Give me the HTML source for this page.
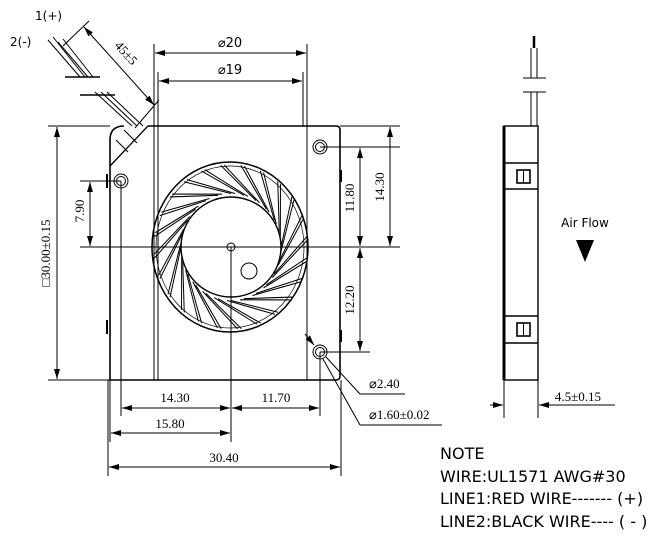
<!DOCTYPE html>
<html><head><meta charset="utf-8"><style>
html,body{margin:0;padding:0;background:#fff}
svg{display:block}
text{font-family:"DejaVu Sans","Liberation Sans",sans-serif;fill:#000}
.s{font-family:"Liberation Serif",serif}
</style></head><body>
<svg width="662" height="546" viewBox="0 0 662 546" xmlns="http://www.w3.org/2000/svg">
<defs>
<marker id="a" viewBox="0 0 10 6" refX="10" refY="3" markerWidth="10" markerHeight="6" orient="auto-start-reverse" markerUnits="userSpaceOnUse"><path d="M0,0L10,3L0,6z" fill="#000"/></marker>
</defs>
<g stroke="#000" fill="none" stroke-width="1">
<path d="M148,126 H336 Q340,126 340,130 V376 Q340,380 336,380 H110 V140 Q110,126 124,126" stroke-width="1.6"/>
<line x1="110" y1="166" x2="148" y2="126" stroke-width="1.3"/>
<line x1="116" y1="140" x2="128" y2="152"/><line x1="124" y1="130" x2="137" y2="143"/>
<line x1="107" y1="174" x2="107" y2="188" stroke-width="2"/><line x1="107" y1="320" x2="107" y2="334" stroke-width="2"/>
<line x1="341" y1="170" x2="341" y2="182" stroke-width="2"/><line x1="341" y1="330" x2="341" y2="342" stroke-width="2"/>
<circle cx="320" cy="147" r="7"/><circle cx="320" cy="147" r="4.5"/>
<circle cx="121" cy="181" r="7"/><circle cx="121" cy="181" r="4.5"/>
<circle cx="320" cy="352" r="7"/><circle cx="320" cy="352" r="4.5"/>
<ellipse cx="230" cy="247" rx="78" ry="85" stroke-width="1.5"/>
<ellipse cx="230" cy="247" rx="74" ry="81" stroke-width="0.7"/>
<circle cx="231" cy="247" r="50" stroke-width="1.4"/>
<circle cx="231" cy="247" r="4"/>
<circle cx="249" cy="271" r="8"/>
<g transform="translate(231 247) scale(1 1.07)">
<g id="b"><line x1="50" y1="0" x2="61" y2="-47"/><line x1="50" y1="4" x2="63" y2="-44"/></g>
<use href="#b" transform="rotate(15)"/><use href="#b" transform="rotate(30)"/><use href="#b" transform="rotate(45)"/>
<use href="#b" transform="rotate(60)"/><use href="#b" transform="rotate(75)"/><use href="#b" transform="rotate(90)"/>
<use href="#b" transform="rotate(105)"/><use href="#b" transform="rotate(120)"/><use href="#b" transform="rotate(135)"/>
<use href="#b" transform="rotate(150)"/><use href="#b" transform="rotate(165)"/><use href="#b" transform="rotate(180)"/>
<use href="#b" transform="rotate(195)"/><use href="#b" transform="rotate(210)"/><use href="#b" transform="rotate(225)"/>
<use href="#b" transform="rotate(240)"/><use href="#b" transform="rotate(255)"/><use href="#b" transform="rotate(270)"/>
<use href="#b" transform="rotate(285)"/><use href="#b" transform="rotate(300)"/><use href="#b" transform="rotate(315)"/>
<use href="#b" transform="rotate(330)"/><use href="#b" transform="rotate(345)"/>
</g>
<!-- wires -->
<line x1="48" y1="40" x2="80" y2="77"/><line x1="53" y1="37" x2="85" y2="77"/>
<line x1="58" y1="42" x2="88" y2="77"/><line x1="63" y1="39" x2="93" y2="77"/>
<line x1="65" y1="77" x2="100" y2="77" stroke-width="1.5"/>
<line x1="80" y1="95" x2="115" y2="95" stroke-width="1.5"/>
<line x1="95" y1="92" x2="132" y2="126"/><line x1="101" y1="92" x2="137" y2="126"/><line x1="107" y1="92" x2="143" y2="126"/>
<line x1="63" y1="46" x2="89" y2="21"/><line x1="135" y1="128" x2="159" y2="100"/>
<line x1="84" y1="27" x2="154" y2="105" marker-start="url(#a)" marker-end="url(#a)"/>
<line x1="154" y1="44" x2="154" y2="380"/><line x1="307" y1="44" x2="307" y2="380"/>
<line x1="158" y1="72" x2="158" y2="380"/><line x1="303" y1="72" x2="303" y2="126"/>
<line x1="155" y1="53" x2="306" y2="53" marker-start="url(#a)" marker-end="url(#a)"/>
<line x1="159" y1="81" x2="302" y2="81" marker-start="url(#a)" marker-end="url(#a)"/>
<line x1="48" y1="126" x2="110" y2="126"/><line x1="48" y1="380" x2="110" y2="380"/>
<line x1="57" y1="127" x2="57" y2="379" marker-start="url(#a)" marker-end="url(#a)"/>
<line x1="80" y1="181" x2="121" y2="181"/><line x1="80" y1="247" x2="400" y2="247"/>
<line x1="90" y1="182" x2="90" y2="246" marker-start="url(#a)" marker-end="url(#a)"/>
<line x1="320" y1="147" x2="400" y2="147"/><line x1="320" y1="352" x2="370" y2="352"/>
<line x1="340" y1="126" x2="400" y2="126"/>
<line x1="360" y1="148" x2="360" y2="246" marker-start="url(#a)" marker-end="url(#a)"/>
<line x1="360" y1="248" x2="360" y2="351" marker-start="url(#a)" marker-end="url(#a)"/>
<line x1="390" y1="127" x2="390" y2="246" marker-start="url(#a)" marker-end="url(#a)"/>
<line x1="121" y1="181" x2="121" y2="416"/><line x1="231" y1="247" x2="231" y2="442"/>
<line x1="320" y1="352" x2="320" y2="416"/><line x1="110" y1="380" x2="110" y2="442"/>
<line x1="108" y1="380" x2="108" y2="476"/><line x1="341" y1="380" x2="341" y2="476"/>
<line x1="122" y1="408" x2="230" y2="408" marker-start="url(#a)" marker-end="url(#a)"/>
<line x1="232" y1="408" x2="319" y2="408" marker-start="url(#a)" marker-end="url(#a)"/>
<line x1="111" y1="433" x2="230" y2="433" marker-start="url(#a)" marker-end="url(#a)"/>
<line x1="109" y1="467" x2="340" y2="467" marker-start="url(#a)" marker-end="url(#a)"/>
<line x1="305" y1="334" x2="314" y2="345" marker-end="url(#a)"/>
<line x1="326" y1="357" x2="360" y2="394"/><line x1="360" y1="394" x2="405" y2="394"/>
<line x1="323" y1="359" x2="360" y2="425"/><line x1="360" y1="425" x2="442" y2="425"/>
<rect x="504" y="126" width="34" height="254" stroke-width="1.4"/>
<line x1="504" y1="126" x2="504" y2="380" stroke-width="3"/>
<line x1="504" y1="163" x2="538" y2="163" stroke-width="1.4"/><line x1="504" y1="189" x2="538" y2="189" stroke-width="1.4"/>
<line x1="504" y1="316" x2="538" y2="316" stroke-width="1.4"/><line x1="504" y1="343" x2="538" y2="343" stroke-width="1.4"/>
<rect x="517" y="170" width="13" height="13" stroke-width="1.6"/><line x1="523.5" y1="170" x2="523.5" y2="183"/>
<rect x="517" y="323" width="13" height="13" stroke-width="1.6"/><line x1="523.5" y1="323" x2="523.5" y2="336"/>
<line x1="531" y1="48" x2="531" y2="78"/><line x1="537" y1="48" x2="537" y2="78"/><line x1="534" y1="36" x2="534" y2="48" stroke-width="2.5"/>
<line x1="523" y1="78" x2="546" y2="78"/><line x1="523" y1="92" x2="546" y2="92"/>
<line x1="531" y1="92" x2="531" y2="126"/><line x1="537" y1="92" x2="537" y2="126"/>
<line x1="504" y1="380" x2="504" y2="418"/><line x1="538" y1="380" x2="538" y2="418"/>
<line x1="490" y1="405" x2="503" y2="405" marker-end="url(#a)"/>
<line x1="615" y1="405" x2="539" y2="405" marker-end="url(#a)"/>
</g>
<path d="M576,240 L594,240 L585,262z" fill="#000"/>
<g font-size="12">
<text x="35" y="20">1(+)</text>
<text x="10" y="46">2(-)</text>
<text x="114" y="46" transform="rotate(48 114 46)" class="s" font-size="13">45±5</text>
<text x="230" y="47" text-anchor="middle" font-size="13">⌀20</text>
<text x="230" y="74" text-anchor="middle" font-size="13">⌀19</text>
<text x="50" y="253" text-anchor="middle" transform="rotate(-90 50 253)" class="s" font-size="13">□30.00±0.15</text>
<text x="84" y="211" text-anchor="middle" transform="rotate(-90 84 211)" class="s" font-size="13">7.90</text>
<text x="354" y="198" text-anchor="middle" transform="rotate(-90 354 198)" class="s" font-size="13">11.80</text>
<text x="384" y="187" text-anchor="middle" transform="rotate(-90 384 187)" class="s" font-size="13">14.30</text>
<text x="354" y="300" text-anchor="middle" transform="rotate(-90 354 300)" class="s" font-size="13">12.20</text>
<text x="175" y="402" text-anchor="middle" class="s" font-size="13">14.30</text>
<text x="276" y="402" text-anchor="middle" class="s" font-size="13">11.70</text>
<text x="170" y="428" text-anchor="middle" class="s" font-size="13">15.80</text>
<text x="224" y="462" text-anchor="middle" class="s" font-size="13">30.40</text>
<text x="369" y="388" class="s" font-size="13">⌀2.40</text>
<text x="369" y="419" class="s" font-size="13">⌀1.60±0.02</text>
<text x="585" y="227" text-anchor="middle">Air Flow</text>
<text x="578" y="401" text-anchor="middle" class="s" font-size="13">4.5±0.15</text>
</g>
<g font-size="16">
<text x="440" y="459">NOTE</text>
<text x="440" y="482">WIRE:UL1571 AWG#30</text>
<text x="440" y="504">LINE1:RED WIRE------- (+)</text>
<text x="440" y="527">LINE2:BLACK WIRE---- ( - )</text>
</g>
</svg>
</body></html>
